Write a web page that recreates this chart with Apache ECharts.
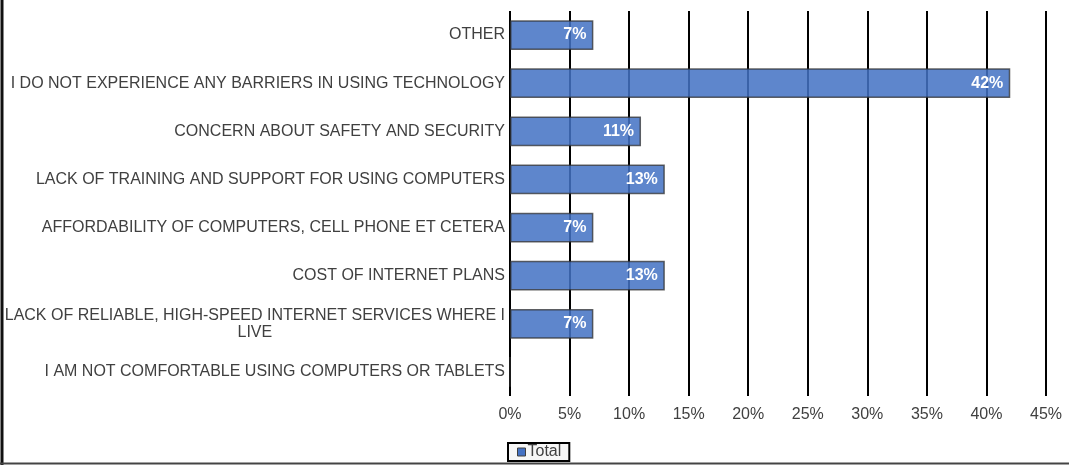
<!DOCTYPE html>
<html>
<head>
<meta charset="utf-8">
<script src="https://cdn.jsdelivr.net/npm/echarts@6/dist/echarts.min.js"></script>
<style>
  html, body { margin: 0; padding: 0; background: #ffffff; }
  #chart { width: 1069px; height: 465px; }
</style>
</head>
<body>
<div id="chart"></div>
<script>
// Survey answers, listed top to bottom
const categories = [
  'OTHER',
  'I DO NOT EXPERIENCE ANY BARRIERS IN USING TECHNOLOGY',
  'CONCERN ABOUT SAFETY AND SECURITY',
  'LACK OF TRAINING AND SUPPORT FOR USING COMPUTERS',
  'AFFORDABILITY OF COMPUTERS, CELL PHONE ET CETERA',
  'COST OF INTERNET PLANS',
  'LACK OF RELIABLE, HIGH-SPEED INTERNET SERVICES WHERE I LIVE',
  'I AM NOT COMFORTABLE USING COMPUTERS OR TABLETS'
];
// Share of respondents, percent
const totals = [7, 42, 11, 13, 7, 13, 7, 0];
const seriesName = 'Total';
const xTicks = [0, 5, 10, 15, 20, 25, 30, 35, 40, 45];

const FONT = '"Liberation Sans", Arial, sans-serif';
const TEXT = '#404040';
const FS = 16;

// Wrap long category names into centred lines
function wrapLabel(name) {
  const maxLen = 55;
  if (name.length <= maxLen) return '{c|' + name + '}';
  const words = name.split(' ');
  const lines = [];
  let cur = '';
  words.forEach(w => {
    const next = cur ? cur + ' ' + w : w;
    if (next.length > maxLen) { lines.push(cur); cur = w; }
    else cur = next;
  });
  if (cur) lines.push(cur);
  return lines.map(l => '{c|' + l + '}').join('\n');
}

const chart = echarts.init(document.getElementById('chart'), null, { renderer: 'canvas' });
chart.setOption({
  backgroundColor: '#ffffff',
  animation: false,
  textStyle: { fontFamily: FONT },
  grid: { left: 510, right: 23, top: 11, bottom: 69, containLabel: false },
  legend: {
    data: [seriesName],
    left: 508,
    top: 443,
    orient: 'horizontal',
    icon: 'rect',
    itemWidth: 8,
    itemHeight: 8,
    itemGap: 2,
    padding: [1, 8, 1, 9],
    borderColor: '#000000',
    borderWidth: 2,
    backgroundColor: '#f7f7f7',
    textStyle: { color: TEXT, fontSize: FS, fontFamily: FONT, padding: [0, 0, 0, -3] },
    itemStyle: { color: '#4472c4', borderColor: '#404040', borderWidth: 1 }
  },
  xAxis: {
    type: 'value',
    min: 0,
    max: 45,
    interval: 5,
    axisLine: { show: false },
    axisTick: { show: false },
    axisLabel: {
      color: TEXT,
      fontSize: FS,
      fontFamily: FONT,
      margin: 11,
      formatter: v => (xTicks.indexOf(v) >= 0 ? v + '%' : '')
    },
    splitLine: { show: true, lineStyle: { color: '#000000', width: 2 } }
  },
  yAxis: {
    type: 'category',
    inverse: true,
    data: categories,
    axisLine: { show: false },
    axisTick: { show: false },
    splitLine: { show: false },
    axisLabel: {
      color: TEXT,
      fontSize: FS,
      fontFamily: FONT,
      margin: 5,
      formatter: wrapLabel,
      rich: { c: { align: 'center', color: TEXT, fontSize: FS, fontFamily: FONT, lineHeight: 17 } }
    }
  },
  series: [{
    name: seriesName,
    type: 'bar',
    data: totals,
    barCategoryGap: '38%',
    itemStyle: {
      color: 'rgba(68,114,196,0.86)',
      borderColor: 'rgba(50,50,50,0.75)',
      borderWidth: 1.5
    },
    label: {
      show: true,
      position: 'insideRight',
      distance: 7,
      color: '#ffffff',
      fontWeight: 'bold',
      fontSize: FS,
      fontFamily: FONT,
      formatter: p => (p.value > 0 ? p.value + '%' : '')
    }
  }],
  graphic: [
    { type: 'line', shape: { x1: 2, y1: 0, x2: 2, y2: 465 }, style: { stroke: '#111111', lineWidth: 3 }, silent: true },
    { type: 'line', shape: { x1: 0, y1: 463.5, x2: 1069, y2: 463.5 }, style: { stroke: '#444444', lineWidth: 2 }, silent: true }
  ]
});
</script>
</body>
</html>
